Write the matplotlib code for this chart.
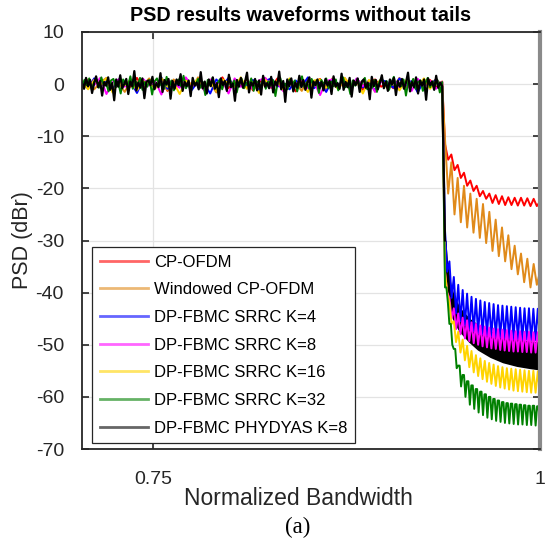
"""PSD of waveforms without tails (normalized bandwidth view)."""

import matplotlib

matplotlib.use("Agg")
import matplotlib.pyplot as plt
import numpy as np

plt.rcParams["font.family"] = ["Liberation Sans", "DejaVu Sans"]
plt.rcParams["axes.unicode_minus"] = False

# frequency layout (normalized bandwidth)
X_START = 0.704
BAND_EDGE = 0.9368
TAIL_START = 0.9386
X_END = 1.0

LABELS = [
    "CP-OFDM",
    "Windowed CP-OFDM",
    "DP-FBMC SRRC K=4",
    "DP-FBMC SRRC K=8",
    "DP-FBMC SRRC K=16",
    "DP-FBMC SRRC K=32",
    "DP-FBMC PHYDYAS K=8",
]
COLORS = ["#FF0000", "#E08A1A", "#0000FF", "#FF00FF", "#FFD400", "#008000", "#000000"]

# in-band PSD (dBr)
red_inband = [0.6, -0.7, 1.0, -0.2, 0.4, -1.1, 0.8, 0.1, -0.5, 1.2, -0.9, 0.3, -0.3, 0.9, -1.3,
              0.5, 0.0, 1.1, -0.6, 0.2, -1.0, 0.7, -0.1, 1.3, -0.8, 0.4, -0.4, 1.0, -1.2, 0.6,
              0.2, -0.7, 1.1, -0.3, 0.5, -1.4, 0.8, -0.2, 0.3, 1.0, -0.9, 0.1, -0.6, 1.2, -0.4,
              0.7, -1.1, 0.4, 0.9, -0.5, 0.2, -0.8, 1.1, -0.2, 0.6, -1.0, 0.3, 0.8, -0.6, 0.5]
orange_inband = [-0.4, 0.9, -1.0, 0.3, 1.2, -0.6, 0.1, -1.5, 0.7, 0.4, -0.2, 1.1, -0.8, 0.5, -1.2,
                 0.9, -0.1, 0.6, -0.9, 1.3, -0.3, 0.2, -1.6, 0.8, 0.3, -0.5, 1.0, -0.7, 0.4, -1.1,
                 1.2, -0.2, 0.5, -0.9, 0.7, 0.1, -1.3, 1.0, -0.4, 0.3, -0.8, 1.1, -0.6, 0.2, -1.0,
                 0.9, -0.3, 0.6, -1.4, 0.8, 0.0, -0.5, 1.2, -0.7, 0.4, -1.1, 0.7, -0.2, 1.0, -0.4]
blue_inband = [0.2, -0.8, 1.1, -0.5, 0.6, -1.2, 0.9, -0.1, 0.4, -1.7, 0.8, 0.2, -0.6, 1.3, -0.9,
               0.3, -0.4, 1.0, -1.1, 0.5, 0.1, -1.8, 0.9, -0.3, 1.2, -0.7, 0.4, -0.2, 0.8, -1.3,
               0.6, 1.1, -0.5, 0.2, -1.0, 0.7, -0.4, 1.3, -0.8, 0.3, -1.5, 0.9, -0.1, 0.5, -0.9,
               1.0, -0.6, 0.2, -1.2, 0.8, 0.4, -0.7, 1.1, -0.3, 0.6, -1.6, 0.7, -0.2, 0.9, -0.5]
magenta_inband = [-0.6, 0.7, -0.2, 1.2, -1.9, 0.4, 0.9, -0.5, 0.3, -1.1, 1.0, -0.3, 0.6, -2.0, 0.8,
                  0.1, -0.7, 1.3, -0.4, 0.5, -1.2, 0.9, -0.1, 0.6, -1.8, 1.1, -0.5, 0.3, -0.9, 0.7,
                  1.2, -0.6, 0.2, -1.4, 0.8, -0.2, 1.0, -0.8, 0.4, -2.1, 0.6, 0.9, -0.3, 0.2, -1.0,
                  1.1, -0.4, 0.7, -1.5, 0.5, -0.1, 0.9, -0.7, 0.3, -1.3, 1.0, -0.5, 0.6, -0.9, 0.4]
yellow_inband = [0.5, -1.0, 0.8, -0.3, 1.1, -1.6, 0.4, -0.2, 0.9, -1.2, 0.6, 0.1, -0.8, 1.2, -0.5,
                 0.3, -1.9, 0.7, -0.1, 1.0, -0.7, 0.5, -1.3, 0.9, 0.2, -0.6, 1.3, -0.9, 0.4, -1.7,
                 0.8, -0.3, 0.6, -1.1, 1.1, -0.4, 0.2, -1.5, 0.7, 0.9, -0.6, 0.3, -1.0, 1.2, -0.2,
                 0.5, -1.8, 0.8, -0.4, 1.0, -0.8, 0.4, -1.2, 0.7, 0.1, -0.5, 1.1, -0.9, 0.6, -0.3]
green_inband = [-0.5, 0.8, -0.2, 1.1, -1.0, 0.4, 0.9, -0.7, 1.3, -0.3, 0.2, -1.4, 0.7, 1.0, -0.6,
                0.3, -1.8, 0.9, 0.1, -0.4, 1.5, -0.9, 0.6, -0.2, 1.2, -1.1, 0.4, -0.5, 0.8, -2.0,
                0.5, 1.1, -0.3, 0.2, -0.9, 1.4, -0.6, 0.7, -1.2, 0.3, 0.9, -0.4, 1.6, -0.8, 0.2,
                -1.5, 0.6, -0.1, 1.0, -0.7, 0.4, -2.1, 0.8, -0.3, 1.2, -0.5, 0.1, 0.9, -1.0, 0.5,
                -0.6, 1.3, -0.2, 0.7, -1.6, 0.4, 1.0, -0.8, 0.3, -0.4, 1.1, -1.3, 0.6, 0.2, -0.7,
                1.4, -0.9, 0.5, -0.3, 0.8, -2.3, 0.6, 1.2, -0.5, 0.1, -1.0, 0.9, -0.2, 0.7, -1.4,
                0.3, 1.5, -0.6, 0.4, -0.9, 1.0, -0.3, 0.6, -1.7, 0.8, -0.1, 1.1, -0.8, 0.5, -0.4,
                0.9, -1.2, 0.3, 1.3, -0.6, 0.2, -1.9, 0.7, -0.3, 1.0, -0.5, 0.4, 1.2, -1.0, 0.1,
                -0.7, 0.8, -1.5, 0.5, 1.1, -0.2, 0.6, -1.1, 0.3, 1.4, -0.8, 0.2, -0.4, 0.9, -2.2,
                0.6, -0.1, 1.0, -0.9, 0.4, 0.7, -1.3, 0.2, 1.2, -0.6, 0.5, -0.3, 0.8, -1.6, 0.4]
black_inband = [0.3, -0.9, 1.2, -0.4, 0.8, -1.7, 0.1, 1.5, -0.6, 0.6, -2.2, 0.4, -0.3, 1.3, -1.1,
                0.2, -3.1, 0.9, -0.5, 1.7, -0.8, 0.0, 1.0, -1.9, 0.5, -0.4, 2.5, -1.2, 0.3, -0.7,
                1.1, -2.7, 0.4, 0.7, -0.2, 1.4, -1.0, 0.2, -0.6, 2.1, -1.5, 0.8, -0.1, 1.0, -2.8,
                0.6, -0.9, 0.9, -0.2, 1.9, -1.3, 0.4, -0.4, 0.7, -2.3, 1.2, -0.3, 0.3, -1.0, 2.3,
                -0.8, 0.5, -1.8, 0.9, -0.4, 1.3, -0.9, 0.2, -2.5, 1.1, -0.2, 0.6, -1.3, 1.8, -0.6,
                0.1, -3.2, 0.8, -0.5, 1.2, -0.7, 0.4, 2.2, -1.6, 0.3, -0.3, 1.0, -1.2, 0.7, -2.0,
                1.6, -0.5, 0.2, -0.8, 1.4, -1.6, 0.5, -0.3, 2.4, -1.0, 0.6, -3.4, 0.9, -0.4, 1.1,
                -1.4, 0.3, -0.7, 1.6, -0.6, 0.8, -1.1, 0.2, 1.3, -2.6, 0.5, -0.2, 0.9, -0.8, 0.4,
                -1.2, 1.0, -0.3, 0.6, -1.9, 1.5, -0.5, 0.2, -0.9, 2.0, -1.1, 0.4, -0.6, 1.2, -2.4,
                0.7, -0.2, 1.1, -1.5, 0.5, 0.9, -0.7, 0.3, -2.9, 1.4, -0.4, 0.8, -1.0, 0.2, 1.7,
                -0.8, 0.5, -1.3, 0.9, -0.1, 1.2, -2.1, 0.6, -0.5, 1.0, -0.9, 0.3, 2.2, -1.4, 0.4,
                -0.6, 1.3, -1.8, 0.7, -0.3, 0.9, -3.0, 1.1, -0.2, 0.5, -1.1, 1.6, -0.7, 0.3, -0.4]

# out-of-band ripple, alternating peak / trough (dBr)
red_tail = [-11.5, -14.5, -13.5, -16.5, -15.5, -18.0, -17.0, -19.5, -18.5, -20.5, -19.5, -21.5,
            -20.5, -22.0, -21.0, -22.8, -21.3, -23.0, -21.5, -23.2, -21.7, -23.2, -21.8, -23.3,
            -21.8, -23.3, -21.9, -23.4, -22.0, -23.4, -22.5]
orange_tail = [-10.5, -21.0, -15.0, -25.0, -18.0, -26.5, -19.5, -27.5, -21.0, -28.5, -22.0, -29.5,
               -23.0, -30.5, -24.5, -32.0, -26.0, -33.0, -27.5, -34.0, -29.0, -35.5, -31.0, -36.5,
               -32.5, -38.0, -33.5, -39.0, -34.5, -38.5, -36.0]
blue_hi = [-28.0, -34.0, -37.0, -38.5, -39.5, -40.2, -40.8, -41.2, -41.5, -41.8, -42.0,
           -42.2, -42.4, -42.5, -42.6, -42.7, -42.8, -42.9, -43.0, -43.0, -43.1, -43.1]
blue_lo = [-36.0, -41.0, -44.0, -45.5, -46.3, -47.0, -47.4, -47.8, -48.0, -48.2, -48.4,
           -48.5, -48.6, -48.7, -48.8, -48.9, -48.9, -49.0, -49.0, -49.1, -49.1, -49.2]
magenta_hi = [-36.0, -41.0, -43.0, -44.0, -44.8, -45.3, -45.7, -46.0, -46.3, -46.5, -46.7,
              -46.9, -47.0, -47.1, -47.2, -47.3, -47.4, -47.4, -47.5, -47.5, -47.6, -47.6]
magenta_lo = [-40.0, -45.0, -47.0, -48.0, -48.8, -49.3, -49.7, -50.0, -50.3, -50.5, -50.7,
              -50.8, -51.0, -51.1, -51.2, -51.3, -51.3, -51.4, -51.4, -51.5, -51.5, -51.5]
yellow_hi = [-36.0, -42.0, -45.5, -47.5, -49.0, -50.2, -51.2, -52.0, -52.6, -53.1, -53.5,
             -53.8, -54.1, -54.3, -54.5, -54.6, -54.7, -54.8, -54.9, -55.0, -55.0, -55.1]
yellow_lo = [-40.0, -46.0, -49.5, -51.5, -53.0, -54.3, -55.3, -56.0, -56.6, -57.1, -57.5,
             -57.9, -58.2, -58.4, -58.6, -58.8, -58.9, -59.0, -59.1, -59.2, -59.2, -59.3]
green_base = [-39.0, -46.0, -50.8, -54.0, -55.8, -57.0, -57.8, -58.5, -59.0, -59.5, -60.0,
              -60.4, -60.7, -61.0, -61.2, -61.3, -61.4, -61.5, -61.6, -61.7, -61.7, -61.8]
green_null = [-42.0, -50.0, -54.5, -58.0, -60.0, -61.5, -62.3, -63.0, -63.5, -64.0, -64.3,
              -64.6, -64.8, -65.0, -65.1, -65.2, -65.3, -65.3, -65.4, -65.4, -65.5, -65.5]

# PHYDYAS: dense ripple, drawn as a band
black_x = [0.9386, 0.9400, 0.9420, 0.9445, 0.9480, 0.9540, 0.9600, 0.9680, 0.9760, 0.9850,
           0.9930, 1.0000]
black_top = [-30.0, -35.0, -38.5, -41.0, -43.0, -45.0, -46.3, -47.5, -48.4, -49.0, -49.4, -49.6]
black_bot = [-33.0, -39.5, -43.0, -45.5, -47.3, -49.3, -50.9, -52.3, -53.3, -54.0, -54.4, -54.7]


def series(inband, tail):
    x = np.concatenate([np.linspace(X_START, BAND_EDGE, len(inband)),
                        np.linspace(TAIL_START, X_END, len(tail))])
    y = np.concatenate([inband, tail])
    return x, y


def interleave(*cols):
    return np.column_stack(cols).ravel()


curves = [
    (red_inband, np.array(red_tail)),
    (orange_inband, np.array(orange_tail)),
    (blue_inband, interleave(blue_hi, blue_lo)),
    (magenta_inband, interleave(magenta_hi, magenta_lo)),
    (yellow_inband, interleave(yellow_hi, yellow_lo)),
    (green_inband, interleave(green_base, green_base, green_null)),
]

fig = plt.figure(figsize=(5.5, 5.46), dpi=100)
ax = fig.add_axes([82 / 550, 1 - 449 / 546, 458 / 550, 417 / 546])

handles = []
for (inband, tail), color, label in zip(curves, COLORS, LABELS):
    x, y = series(inband, tail)
    (line,) = ax.plot(x, y, color=color, linewidth=1.4, label=label)
    handles.append(line)

x_black = np.concatenate([np.linspace(X_START, BAND_EDGE, len(black_inband)), [black_x[0]]])
y_black = np.concatenate([black_inband, [black_top[0]]])
(line,) = ax.plot(x_black, y_black, color="black", linewidth=1.6, label=LABELS[-1])
handles.append(line)
ax.fill_between(black_x, black_bot, black_top, color="black", linewidth=1.2, edgecolor="black")

ax.set_xlim(X_START, X_END)
ax.set_ylim(-70, 10)
ax.set_xticks([0.75, 1.0])
ax.set_xticklabels(["0.75", "1"])
ax.set_yticks(np.arange(-70, 11, 10))
ax.grid(True, color="#E3E3E3", linewidth=0.9)
ax.set_axisbelow(True)
ax.tick_params(direction="in", length=5, width=1.2, top=True, right=True,
               labelsize=14, colors="#262626")
ax.tick_params(axis="y", pad=13)
ax.tick_params(axis="x", pad=16)
for side in ("left", "bottom", "top"):
    ax.spines[side].set_color("#262626")
    ax.spines[side].set_linewidth(1.3)
ax.spines["right"].set_color("#8A8A8A")
ax.spines["right"].set_linewidth(3.0)

ax.set_title("PSD results waveforms without tails", fontsize=14.2, fontweight="bold",
             pad=8, x=0.476)
ax.set_ylabel("PSD (dBr)", fontsize=15.5, color="#262626")
ax.yaxis.set_label_coords(-0.108, 0.5)
ax.set_xlabel("Normalized Bandwidth", fontsize=16.5, color="#262626")
ax.xaxis.set_label_coords(0.472, -0.09)
fig.text(298 / 550, 1 - 527 / 546, "(a)", fontsize=16.5, family="Liberation Serif",
         ha="center", va="center")

leg = ax.legend(handles=handles, loc="lower left", bbox_to_anchor=(0.022, 0.014),
                borderaxespad=0, fontsize=12, fancybox=False, framealpha=1,
                edgecolor="#262626", handlelength=2.9, labelspacing=0.76,
                borderpad=0.45, handletextpad=0.35)
leg.get_frame().set_linewidth(0.9)
for lh in leg.get_lines():
    lh.set_alpha(0.6)
    lh.set_linewidth(2.0)

fig.savefig("out.png", dpi=100)
